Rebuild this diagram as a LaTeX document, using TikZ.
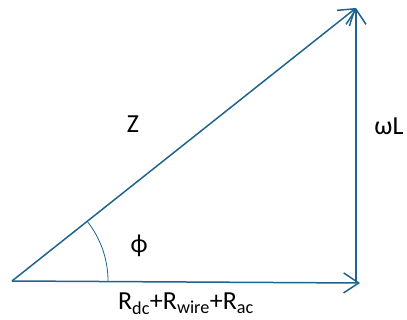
\documentclass[tikz,border=0pt]{standalone}
\usepackage{fontspec}
\setmainfont{Carlito}
\usetikzlibrary{arrows.meta}

\definecolor{phasor}{RGB}{30,100,140}

\begin{document}
\begin{tikzpicture}[x=1pt,y=-1pt,
    vec/.style={phasor, line width=1.5pt, -{Straight Barb[length=15pt,width=20pt,line width=1.5pt]}},
    lbl/.style={font=\fontsize{26}{30}\selectfont, inner sep=0pt}]

    \useasboundingbox (0,0) rectangle (407,320);

    % --- csúcspontok ---
    \coordinate (origin) at (12,281);
    \coordinate (rend) at (360,283);
    \coordinate (corner) at (356,283);
    \coordinate (top) at (356,8);

    % Ellenállás vektor
    \draw[vec] (origin) -- (rend);
    % Reaktancia vektor
    \draw[vec] (corner) -- (top);
    % Impedancia vektor
    \draw[vec] (origin) -- (top);

    % Szög jelzése
    \draw[phasor, line width=0.8pt] ([xshift=96pt]origin) arc (0:-38.5:96);

    % Feliratok
    \node[lbl] (zlabel) at (133,124) {Z};
    \node[lbl] (wlabel) at (389,126) {ωL};
    \node[lbl] (philabel) at (139,246) {ϕ};
    \node[lbl, anchor=base] (rlabel) at (186,310) {R\textsubscript{dc}+R\textsubscript{wire}+R\textsubscript{ac}};

\end{tikzpicture}
\end{document}
